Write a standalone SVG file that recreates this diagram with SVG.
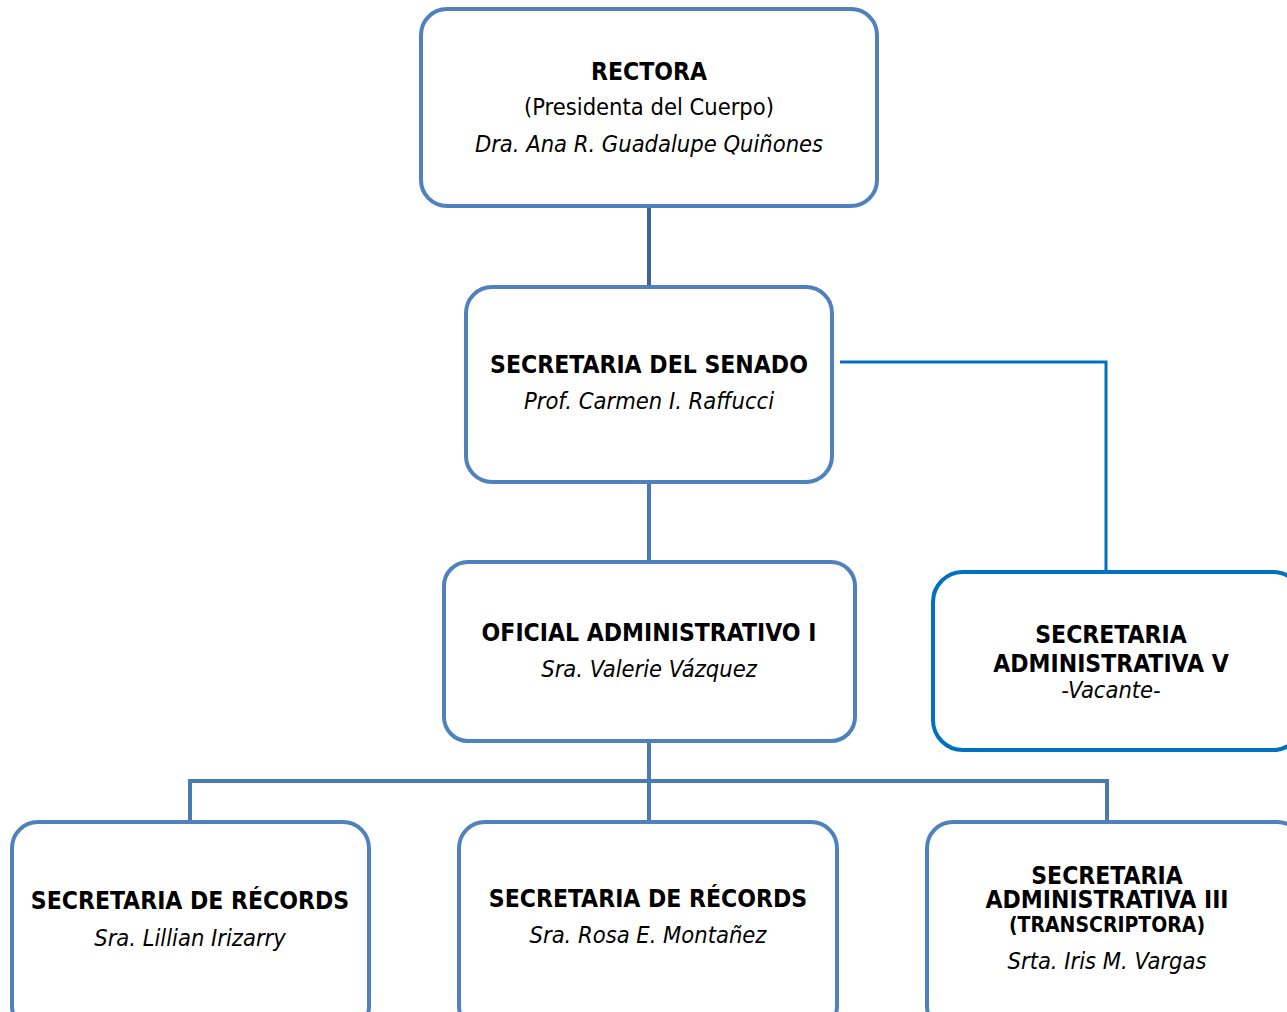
<svg xmlns="http://www.w3.org/2000/svg" width="1287" height="1012" viewBox="0 0 1287 1012">
<style>
.box{fill:#fff;stroke:#4f81bd;stroke-width:4}
.boxb{fill:#fff;stroke:#0070c0;stroke-width:4}
.c{fill:none;stroke:#4a7ab4;stroke-width:4}
.cb{fill:none;stroke:#0070c0;stroke-width:3}
text{font-family:"DejaVu Sans Condensed","DejaVu Sans",Verdana,sans-serif;font-stretch:condensed;font-size:23.5px;text-anchor:middle;fill:#000}
.b{font-weight:bold;font-size:24.5px}
.i{font-style:italic}
.s{font-size:21px}
</style>
<rect width="1287" height="1012" fill="#fff"/>
<g id="connectors">
<line class="c" x1="649" y1="206" x2="649" y2="287" style="stroke:#3f6596"/>
<line class="c" x1="649" y1="482" x2="649" y2="562"/>
<polyline class="cb" points="840,362 1106,362 1106,572"/>
<polyline class="c" points="649,741 649,781"/>
<polyline class="c" points="190,822 190,781 1107,781 1107,822"/>
<line class="c" x1="649" y1="781" x2="649" y2="822"/>
</g>
<g id="rectora">
<rect class="box" x="421" y="9" width="456" height="197" rx="26"/>
<text class="b" x="649" y="80">RECTORA</text>
<text x="649" y="115">(Presidenta del Cuerpo)</text>
<text class="i" x="649" y="152">Dra. Ana R. Guadalupe Quiñones</text>
</g>
<g id="secretaria-senado">
<rect class="box" x="466" y="287" width="366" height="195" rx="26"/>
<text class="b" x="649" y="373">SECRETARIA DEL SENADO</text>
<text class="i" x="649" y="409">Prof. Carmen I. Raffucci</text>
</g>
<g id="oficial">
<rect class="box" x="444" y="562" width="411" height="179" rx="24"/>
<text class="b" x="649" y="641">OFICIAL ADMINISTRATIVO I</text>
<text class="i" x="649" y="677">Sra. Valerie Vázquez</text>
</g>
<g id="sec-admin-v">
<rect class="boxb" x="933" y="572" width="370" height="178" rx="30"/>
<text class="b" x="1111" y="643">SECRETARIA</text>
<text class="b" x="1111" y="672">ADMINISTRATIVA V</text>
<text class="i" x="1111" y="698">-Vacante-</text>
</g>
<g id="records-1">
<rect class="box" x="12" y="822" width="357" height="210" rx="26"/>
<text class="b" x="190" y="909">SECRETARIA DE RÉCORDS</text>
<text class="i" x="190" y="946">Sra. Lillian Irizarry</text>
</g>
<g id="records-2">
<rect class="box" x="459" y="822" width="378" height="210" rx="26"/>
<text class="b" x="648" y="907">SECRETARIA DE RÉCORDS</text>
<text class="i" x="648" y="943">Sra. Rosa E. Montañez</text>
</g>
<g id="sec-admin-iii">
<rect class="box" x="927" y="822" width="376" height="210" rx="26"/>
<text class="b" x="1107" y="884">SECRETARIA</text>
<text class="b" x="1107" y="908">ADMINISTRATIVA III</text>
<text class="b s" x="1107" y="932">(TRANSCRIPTORA)</text>
<text class="i" x="1107" y="969">Srta. Iris M. Vargas</text>
</g>
</svg>
